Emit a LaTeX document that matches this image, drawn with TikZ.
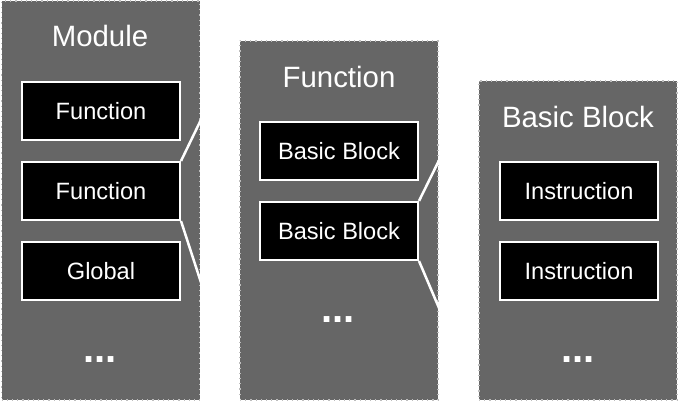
\documentclass[tikz,border=0pt]{standalone}
\usepackage{fontspec}
\setmainfont{Liberation Sans}
\usetikzlibrary{positioning}
\definecolor{panelgray}{HTML}{666666}
\definecolor{dotline}{HTML}{BDBDBD}

\begin{document}
\begin{tikzpicture}[x=0.5pt,y=-0.5pt,
  panel/.style={draw=dotline, dotted, line width=0.6pt, fill=panelgray, minimum width=99pt, inner sep=0pt},
  item/.style={draw=white, line width=1pt, fill=black, text=white, minimum width=79pt, minimum height=29pt, inner sep=0pt, font=\fontsize{11.8}{14}\selectfont},
  title/.style={text=white, anchor=base, inner sep=0pt, font=\fontsize{14.7}{17}\selectfont},
  more/.style={text=white, anchor=base, inner sep=0pt, font=\fontsize{20}{22}\selectfont\bfseries},
  zoomline/.style={draw=white, line width=1.25pt}]
\useasboundingbox (0,0) rectangle (680,406);

\node[panel, minimum height=199.5pt] (module) at (100.5,200.5) {};
\node[panel, minimum height=179.5pt] (function) at (339,220.5) {};
\node[panel, minimum height=159.5pt] (block) at (578,240.5) {};

\node[title] (moduletitle) at (100,47) {Module};
\node[item] (func1) at (101,111) {Function};
\node[item] (func2) at (101,191) {Function};
\node[item] (global) at (101,271) {Global};
\node[more] (moremodule) at (100,362) {...};

\node[title] (functitle) at (339,88) {Function};
\node[item] (bb1) at (339,151) {Basic Block};
\node[item] (bb2) at (339,231) {Basic Block};
\node[more] (morefunc) at (338,322) {...};

\node[title] (blocktitle) at (578,128) {Basic Block};
\node[item] (inst1) at (579,191) {Instruction};
\node[item] (inst2) at (579,271) {Instruction};
\node[more] (moreblock) at (578,362) {...};

\draw[zoomline] (func2.north east) -- (function.north west);
\draw[zoomline] (func2.south east) -- (function.south west);
\draw[zoomline] (bb2.north east) -- (block.north west);
\draw[zoomline] (bb2.south east) -- (block.south west);
\end{tikzpicture}
\end{document}
